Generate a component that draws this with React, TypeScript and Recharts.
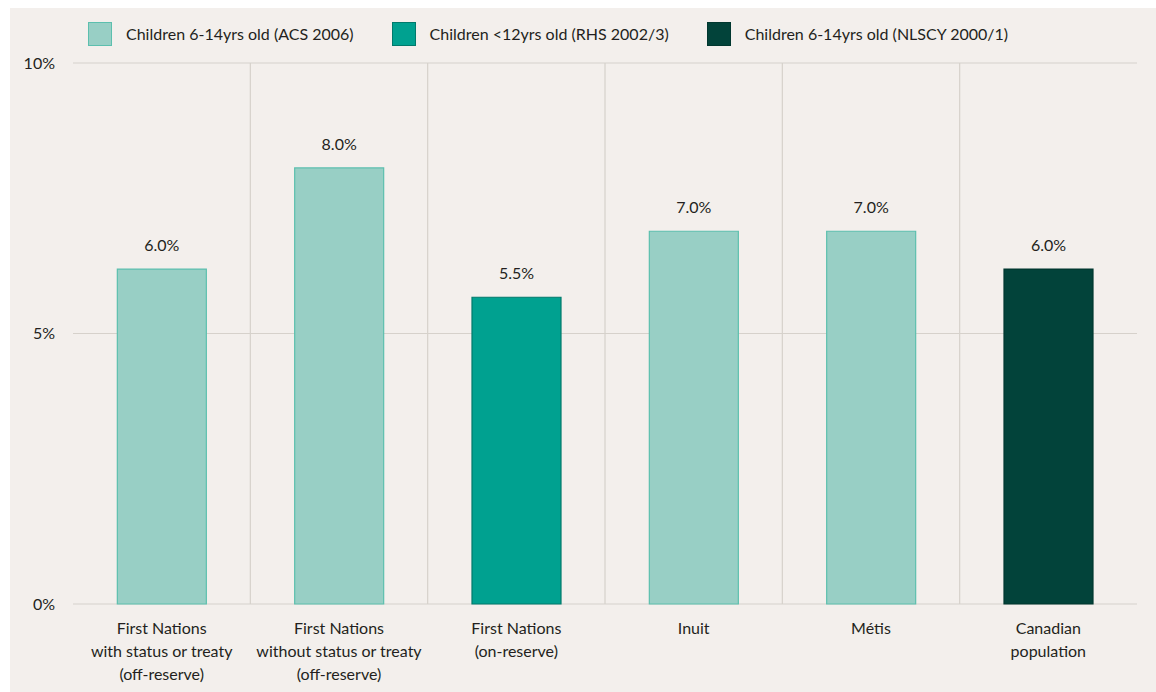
import { Bar, BarChart, CartesianGrid, Cell, LabelList, XAxis, YAxis } from "recharts";

const CATEGORIES = [
  "First Nations|with status or treaty|(off-reserve)",
  "First Nations|without status or treaty|(off-reserve)",
  "First Nations|(on-reserve)",
  "Inuit",
  "Métis",
  "Canadian|population",
];
// bar heights as drawn in the picture
const VALUES = [6.19, 8.06, 5.67, 6.89, 6.89, 6.19];
const VALUE_LABELS = ["6.0%", "8.0%", "5.5%", "7.0%", "7.0%", "6.0%"];
const SOURCES = ["ACS", "ACS", "RHS", "ACS", "ACS", "NLSCY"];
const LEGEND_KEYS = ["ACS", "RHS", "NLSCY"];
const LEGEND_NAMES = [
  "Children 6-14yrs old (ACS 2006)",
  "Children <12yrs old (RHS 2002/3)",
  "Children 6-14yrs old (NLSCY 2000/1)",
];
const Y_TICKS = [0, 5, 10];

const FILL: Record<string, string> = { ACS: "#98cfc5", RHS: "#00a190", NLSCY: "#02433a" };
const EDGE: Record<string, string> = { ACS: "#5cbfae", RHS: "#007a6c", NLSCY: "#01372f" };

const TEXT = "#231f20";
const GRID = "#d6d1cb";
const FONT = "Lato, 'Open Sans', sans-serif";

const data = CATEGORIES.map((name, i) => ({
  name,
  value: VALUES[i],
  label: VALUE_LABELS[i],
  source: SOURCES[i],
}));

function CategoryTick({ x, y, payload }: any) {
  const lines = String(payload.value).split("|");
  return (
    <text x={x} y={y + 30} textAnchor="middle" fill={TEXT} fontSize={16} fontFamily={FONT}>
      {lines.map((line, i) => (
        <tspan key={i} x={x} dy={i === 0 ? 0 : 23}>
          {line}
        </tspan>
      ))}
    </text>
  );
}

export default function App() {
  return (
    <div style={{ position: "absolute", left: 0, top: 0, width: 1156, height: 692, background: "#fff" }}>
      <div
        style={{
          position: "absolute",
          left: 10,
          top: 8,
          width: 1146,
          height: 684,
          background: "#f3efec",
          fontFamily: FONT,
        }}
      >
        <div style={{ position: "absolute", left: 78, top: 14, display: "flex", gap: 38 }}>
          {LEGEND_KEYS.map((key, i) => (
            <div key={key} style={{ display: "flex", alignItems: "center" }}>
              <span
                style={{
                  width: 22,
                  height: 22,
                  background: FILL[key],
                  border: `1px solid ${EDGE[key]}`,
                  marginRight: 14,
                }}
              />
              <span style={{ fontSize: 16, color: TEXT, lineHeight: "24px" }}>{LEGEND_NAMES[i]}</span>
            </div>
          ))}
        </div>
        <BarChart
          width={1146}
          height={684}
          data={data}
          margin={{ top: 55, right: 19, left: 0, bottom: 0 }}
          barCategoryGap="25%"
        >
          <CartesianGrid
            stroke={GRID}
            strokeWidth={1.2}
            verticalCoordinatesGenerator={({ offset }: any) =>
              [1, 2, 3, 4, 5].map((i) => offset.left + (i * offset.width) / CATEGORIES.length)
            }
          />
          <XAxis
            dataKey="name"
            axisLine={false}
            tickLine={false}
            tickSize={0}
            tickMargin={0}
            height={88}
            interval={0}
            tick={<CategoryTick />}
          />
          <YAxis
            domain={[0, 10]}
            ticks={Y_TICKS}
            axisLine={false}
            tickLine={false}
            tickSize={0}
            tickMargin={18}
            width={63}
            tickFormatter={(v) => `${v}%`}
            tick={{ fill: TEXT, fontSize: 16, fontFamily: FONT }}
          />
          <Bar dataKey="value" isAnimationActive={false}>
            {data.map((d) => (
              <Cell key={d.name} fill={FILL[d.source]} stroke={EDGE[d.source]} strokeWidth={1.2} />
            ))}
            <LabelList
              dataKey="label"
              position="top"
              offset={18}
              fill={TEXT}
              fontSize={16}
              fontFamily={FONT}
            />
          </Bar>
        </BarChart>
      </div>
    </div>
  );
}
